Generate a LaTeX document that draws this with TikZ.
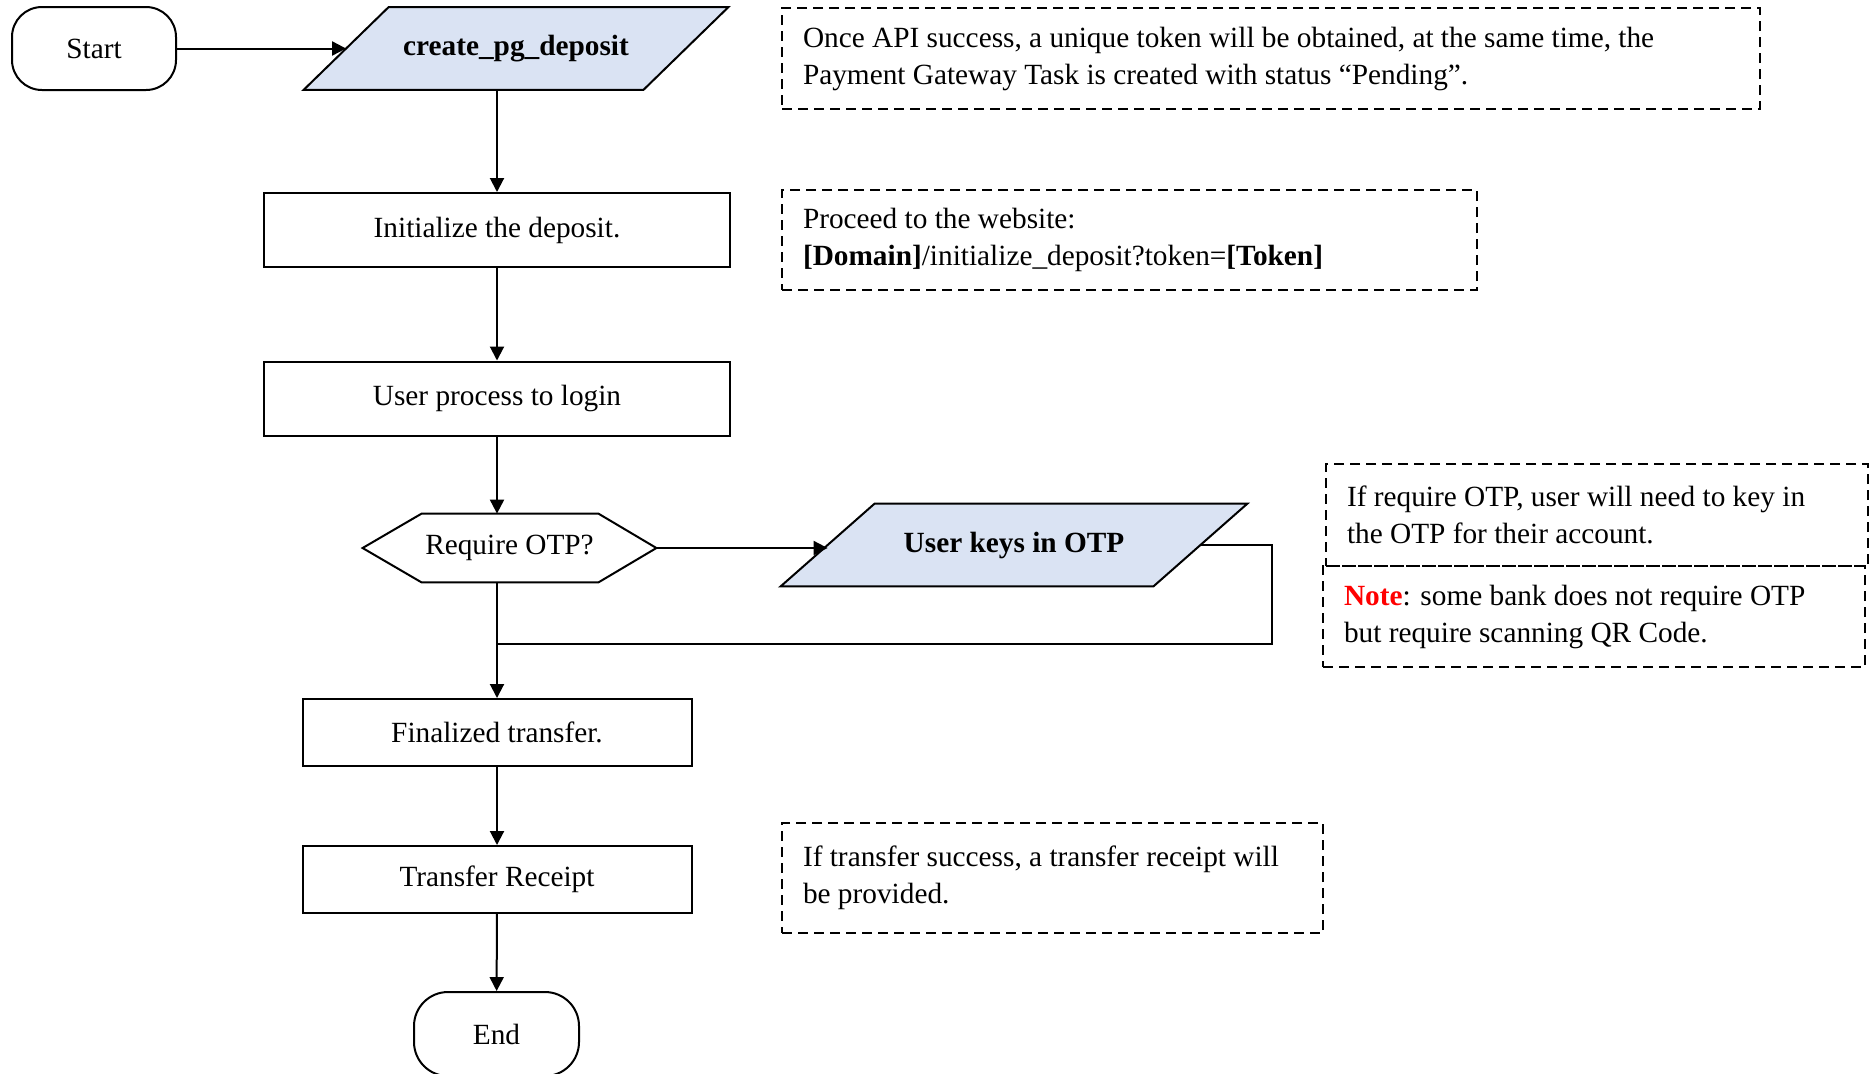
\documentclass[tikz,border=0pt]{standalone}
\usepackage{fontspec}
\setmainfont{Liberation Serif}
\usetikzlibrary{arrows.meta}
\definecolor{pgfill}{HTML}{DAE3F3}
\definecolor{notered}{HTML}{FF0000}
\begin{document}
\begin{tikzpicture}[x=0.5pt, y=-0.5pt,
  every node/.style={font=\fontsize{14.65pt}{18.5pt}\selectfont},
  base/.style={draw=black, line width=1pt},
  term/.style={base, rounded corners=15pt, minimum width=82pt, minimum height=41.5pt, inner sep=0pt},
  proc/.style={base, minimum height=37pt, inner sep=0pt},
  iobody/.style={inner sep=0pt, minimum height=41pt, font=\fontsize{14.65pt}{18.5pt}\selectfont\bfseries},
  ioshape/.style={draw=black, fill=pgfill, line width=1pt},
  note/.style={draw=black, line width=1pt, dash pattern=on 5pt off 3pt, align=flush left,
    inner xsep=10.5pt, inner ysep=2pt},
  arr/.style={line width=1pt, -{Triangle[length=7pt,width=7pt]}},
  conn/.style={line width=1pt}
]
\useasboundingbox (0,0) rectangle (1871,1073);

% parallelogram: create_pg_deposit (body 389..643, slant 42.5pt)
\node[iobody, minimum width=127pt] (create) at (516,48.5) {};
\filldraw[ioshape] (create.north west) -- ([xshift=42.5pt]create.north east) -- (create.south east)
  -- ([xshift=-42.5pt]create.south west) -- cycle;
\node[iobody] at (create) {create\_pg\_deposit};

% parallelogram: User keys in OTP (body 875..1153, slant 47pt)
\node[iobody, minimum width=139pt] (keys) at (1014,545) {};
\filldraw[ioshape] (keys.north west) -- ([xshift=47pt]keys.north east) -- (keys.south east)
  -- ([xshift=-47pt]keys.south west) -- cycle;
\node[iobody] at (keys) {User keys in OTP};

% other flow nodes
\node[term] (start) at (94,48.5) {Start};
\node[proc, minimum width=233pt] (init) at (497,230) {Initialize the deposit.};
\node[proc, minimum width=233pt] (login) at (497,398.5) {User process to login};
\node[minimum width=146.5pt, minimum height=34pt, inner sep=0pt] (otp) at (509.5,548) {Require OTP?};
\draw[base] (otp.west) -- ([xshift=29.5pt]otp.north west) -- ([xshift=-29pt]otp.north east)
  -- (otp.east) -- ([xshift=-29pt]otp.south east) -- ([xshift=29.5pt]otp.south west) -- cycle;
\node[proc, minimum width=194.5pt, minimum height=33.5pt] (final) at (497,732.5) {Finalized transfer.};
\node[proc, minimum width=194.5pt, minimum height=33.5pt] (receipt) at (497,879.5) {Transfer Receipt};
\node[term, minimum width=82.5pt, minimum height=42pt, rounded corners=17pt] (end) at (496.5,1034) {End};

% notes
\node[note, text width=468pt, minimum height=50.5pt] (n1) at (1271,58.5)
  {Once API success, a unique token will be obtained, at the same time, the\\Payment Gateway Task is created with status “Pending”.};
\node[note, text width=326.5pt, minimum height=50pt] (n2) at (1129.5,240)
  {Proceed to the website:\\\textbf{[Domain]}/initialize\_deposit?token=\textbf{[Token]}};
\node[note, text width=250pt, minimum height=51pt] (n3) at (1597,515)
  {If require OTP, user will need to key in\\the OTP for their account.};
\node[note, text width=250pt, minimum height=50.5pt] (n4) at (1594,616.5)
  {\textcolor{notered}{\textbf{Note}}: some bank does not require OTP\\but require scanning QR Code.};
\node[note, text width=249.5pt, minimum height=55pt] (n5) at (1052.5,878)
  {If transfer success, a transfer receipt will\\be provided.};

% connectors
\draw[arr] (start) -- ([xshift=-21.25pt]create.west);
\draw[arr] (create.south -| init.north) -- (init.north);
\draw[arr] (init) -- (login);
\draw[arr] (login.south) -- (login.south |- otp.north);
\draw[arr] (otp.south -| login.south) -- (final.north);
\draw[arr] (otp.east) -- ([xshift=-23.5pt]otp.east -| keys.west);
\coordinate (merge) at (497,644);
\draw[conn] ([xshift=23.5pt]keys.east) -- ++(72,0) |- (merge);
\draw[arr] (final) -- (receipt);
\draw[arr] (receipt) -- (end);
\end{tikzpicture}
\end{document}
